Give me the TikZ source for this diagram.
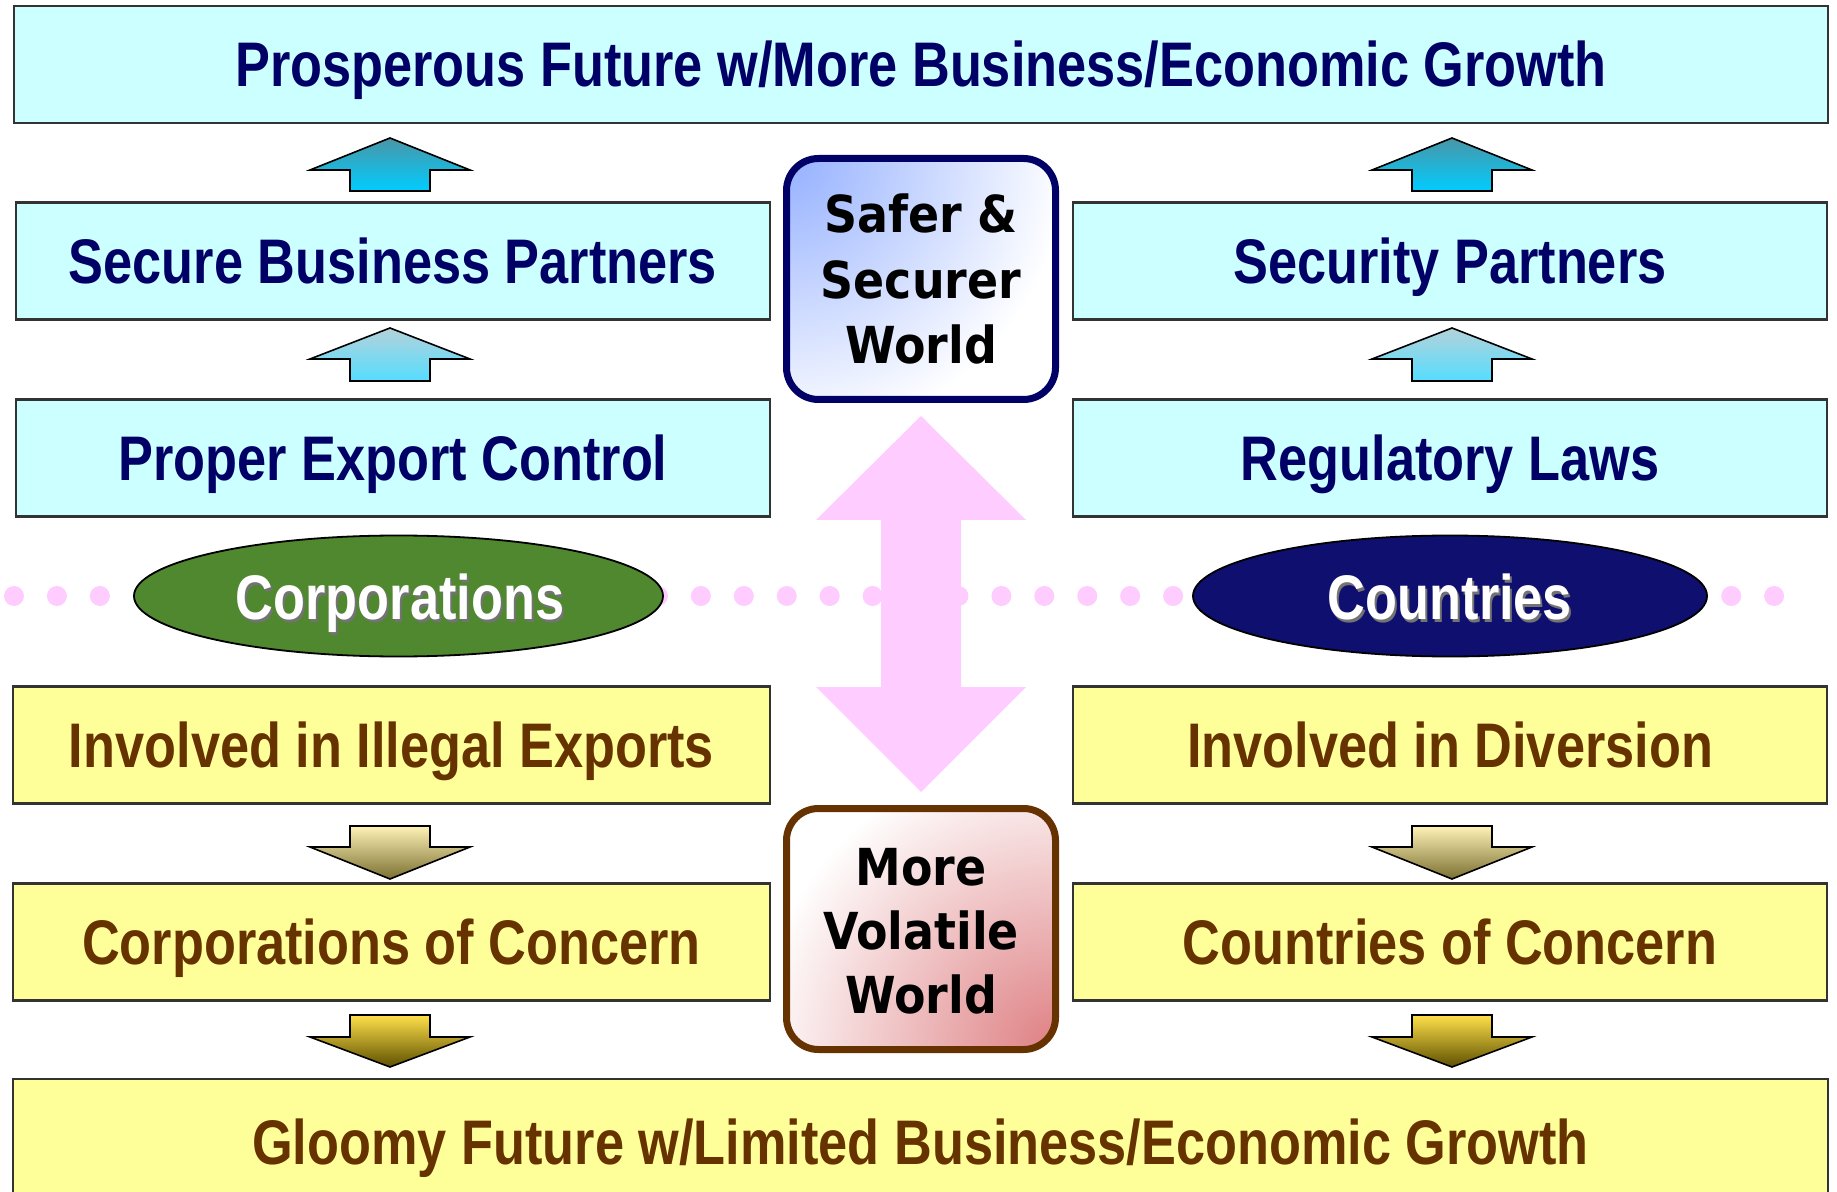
\documentclass[tikz,border=0pt]{standalone}
\usepackage{fontspec}
\usetikzlibrary{shapes.geometric}
\newfontfamily\narfont[FakeStretch=0.83]{Liberation Sans}
\newfontfamily\tahfont[FakeStretch=0.9]{DejaVu Sans}
\definecolor{navytxt}{HTML}{000066}
\definecolor{browntxt}{HTML}{663300}
\definecolor{cyanfill}{HTML}{CCFFFF}
\definecolor{yellowfill}{HTML}{FFFF99}
\definecolor{pinkc}{HTML}{FFCCFF}
\definecolor{greenell}{HTML}{4F882E}
\definecolor{navyell}{HTML}{0F0F70}
\definecolor{safblue}{HTML}{94B0FF}
\definecolor{volred}{HTML}{DE7F82}
\definecolor{upAtop}{HTML}{4A96A6}
\definecolor{upAbot}{HTML}{00CCFF}
\definecolor{upBtop}{HTML}{B4D2DA}
\definecolor{upBbot}{HTML}{55DDFF}
\definecolor{dnAtop}{HTML}{FFF2B8}
\definecolor{dnAbot}{HTML}{7A7030}
\definecolor{dnBtop}{HTML}{FFE04A}
\definecolor{dnBbot}{HTML}{5E5000}
\newcommand\blockarrow[6]{%
  \draw[blkline, top color=#5, bottom color=#6]
    (#1,#2) -- (#1+80,#3) -- (#1+40,#3) -- (#1+40,#4) -- (#1-40,#4)
    -- (#1-40,#3) -- (#1-80,#3) -- cycle;}
\begin{document}
\begin{tikzpicture}[x=0.5pt,y=-0.5pt,
  boxfont/.style={font=\narfont\bfseries\fontsize{31.5}{36}\selectfont},
  cbox/.style={draw=black!80, line width=1.1pt, fill=cyanfill, text=navytxt,
    minimum width=377pt, minimum height=58.5pt, inner sep=0pt,
    text height=22.5pt, text depth=0pt, boxfont},
  ybox/.style={cbox, fill=yellowfill, text=browntxt},
  ell/.style={ellipse, draw=black, line width=0.9pt, inner sep=0pt,
    minimum width=264.5pt, minimum height=60.5pt},
  elltxt/.style={boxfont, text=white, inner sep=0pt, text height=22.5pt, text depth=0pt},
  ellshadow/.style={elltxt, text=black!55},
  worldbox/.style={rounded corners=16pt, line width=3.5pt, fill=white,
    minimum width=134.5pt, minimum height=120.5pt, inner sep=0pt},
  worldtxt/.style={font=\tahfont\bfseries\fontsize{25.5}{32}\selectfont,
    text=black, anchor=base, inner sep=0pt},
  blkline/.style={draw=black, line width=0.8pt, line join=miter}
]
\clip (0,0) rectangle (1837,1192);
\fill[white] (0,0) rectangle (1837,1192);

% dotted separator line
\foreach \k in {0,...,41} \fill[pinkc] (14+42.93*\k,596) circle (10);

% pink double arrow
\fill[pinkc] (921,416) -- (1026,520) -- (961,520) -- (961,687) -- (1026,687)
  -- (921,792) -- (816,687) -- (881,687) -- (881,520) -- (816,520) -- cycle;

% boxes
\node[cbox, minimum width=907pt] (top) at (921,64.5) {Prosperous Future w/More Business/Economic Growth};
\node[cbox] (sbp) at (393,261) {Secure Business Partners};
\node[cbox] (sp) at (1450,261) {Security Partners};
\node[cbox] (pec) at (393,458) {Proper Export Control};
\node[cbox] (rl) at (1450,458) {Regulatory Laws};
\node[ybox, minimum width=378.5pt] (iie) at (391.5,745) {Involved in Illegal Exports};
\node[ybox] (iid) at (1450,745) {Involved in Diversion};
\node[ybox, minimum width=378.5pt] (coc) at (391.5,942) {Corporations of Concern};
\node[ybox] (cyc) at (1450,942) {Countries of Concern};
\node[ybox, minimum width=907.5pt, minimum height=63pt] (gloomy) at (920.5,1142) {Gloomy Future w/Limited Business/Economic Growth};

% ellipses
\node[ell, fill=greenell] (corp) at (398.5,596) {};
\node[ellshadow] (corpsh) at (402,599.5) {Corporations};
\node[elltxt] (corptx) at (400,597) {Corporations};
\node[ell, fill=navyell, minimum width=257pt] (ctry) at (1450,596) {};
\node[ellshadow] (ctrysh) at (1452,599.5) {Countries};
\node[elltxt] (ctrytx) at (1450,597) {Countries};

% block arrows
\blockarrow{390}{138}{170}{191}{upAtop}{upAbot}
\blockarrow{1452}{138}{170}{191}{upAtop}{upAbot}
\blockarrow{390}{328}{359}{381}{upBtop}{upBbot}
\blockarrow{1452}{328}{359}{381}{upBtop}{upBbot}
\blockarrow{390}{879}{847}{826}{dnAtop}{dnAbot}
\blockarrow{1452}{879}{847}{826}{dnAtop}{dnAbot}
\blockarrow{390}{1067}{1037}{1015}{dnBtop}{dnBbot}
\blockarrow{1452}{1067}{1037}{1015}{dnBtop}{dnBbot}

% world boxes
\node[worldbox, draw=navytxt,
  path picture={\fill[inner color=safblue, outer color=white]
    (path picture bounding box.north west) circle (280);}] (safer) at (921,279) {};
\node[worldtxt] (saf1) at (921,233) {Safer \&};
\node[worldtxt] (saf2) at (921,299) {Securer};
\node[worldtxt] (saf3) at (921,364) {World};

\node[worldbox, draw=browntxt,
  path picture={\fill[inner color=volred, outer color=white]
    (path picture bounding box.south east) circle (300);}] (volatile) at (921,929) {};
\node[worldtxt] (vol1) at (921,885) {More};
\node[worldtxt] (vol2) at (921,949) {Volatile};
\node[worldtxt] (vol3) at (921,1013) {World};
\end{tikzpicture}
\end{document}
